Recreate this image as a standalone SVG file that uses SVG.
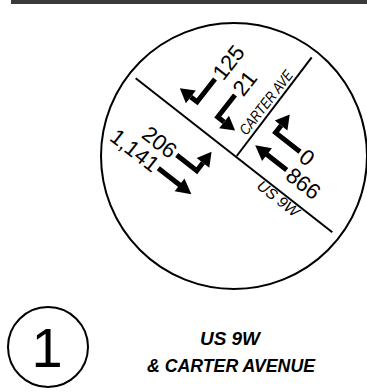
<svg xmlns="http://www.w3.org/2000/svg" width="367" height="392" viewBox="0 0 367 392">
<style>
.road{stroke:#000;stroke-width:2;fill:none}
.ring{stroke:#000;stroke-width:2;fill:none}
.stem{stroke:#000;stroke-width:5;fill:none;stroke-linejoin:miter;stroke-linecap:butt}
.head{fill:#000}
.num{font-family:"Liberation Sans",Arial,sans-serif;font-size:22px;fill:#000}
.lbl{font-family:"Liberation Sans",Arial,sans-serif;font-style:italic;font-size:15px;fill:#000}
.title{font-family:"Liberation Sans",Arial,sans-serif;font-weight:bold;font-style:italic;font-size:19px;fill:#000}
</style>
<rect id="topbar" x="11" y="0" width="356" height="4" fill="#3a3a3a"/>
<g id="intersection">
<circle class="ring" cx="234" cy="156" r="133"/>
</g>
<g id="connectors">
<line class="road" x1="135.7" y1="78.3" x2="332.3" y2="232.3"/>
<line class="road" x1="236.7" y1="156" x2="311.7" y2="57.3"/>
</g>
<g id="road-labels">
<text class="lbl" transform="translate(236.7,155) rotate(-52)" x="21" y="-4" textLength="77" lengthAdjust="spacingAndGlyphs">CARTER AVE</text>
<text class="lbl" transform="translate(236.7,155) rotate(38)" x="35" y="14" font-size="14" textLength="49" lengthAdjust="spacingAndGlyphs">US 9W</text>
</g>
<g id="nw-approach">
<g id="nw-left" transform="translate(176.7,155) rotate(38)">
<path class="stem" d="M0,0H25.5V-10"/>
<polygon class="head" points="17.5,-10 25.5,-24 33.5,-10"/>
<text class="num" x="-3" y="8" text-anchor="end">206</text>
</g>
<g id="nw-thru" transform="translate(158.3,168.3) rotate(38)">
<path class="stem" d="M0,0H28"/>
<polygon class="head" points="27,-8 42,0 27,8"/>
<text class="num" x="-2" y="8" text-anchor="end">1,141</text>
</g>
</g>
<g id="ne-approach">
<g id="ne-right" transform="translate(215,79) rotate(-52)">
<path class="stem" d="M0,0H-29V-8"/>
<polygon class="head" points="-37,-8 -29,-22 -21,-8"/>
<text class="num" x="3" y="8">125</text>
</g>
<g id="ne-left" transform="translate(235,95) rotate(-52)">
<path class="stem" d="M0,0H-28V8"/>
<polygon class="head" points="-36,8 -28,22 -20,8"/>
<text class="num" x="3" y="8">21</text>
</g>
</g>
<g id="se-approach">
<g id="se-right" transform="translate(300,151.7) rotate(38)">
<path class="stem" d="M0,0H-31V-9"/>
<polygon class="head" points="-39,-9 -31,-23 -23,-9"/>
<text class="num" x="3" y="8">0</text>
</g>
<g id="se-thru" transform="translate(286.7,170) rotate(38)">
<path class="stem" d="M0,0H-26"/>
<polygon class="head" points="-25,-8 -40,0 -25,8"/>
<text class="num" x="3" y="8">866</text>
</g>
</g>
<g id="legend">
<circle class="ring" cx="48" cy="347" r="40"/>
<text x="47" y="367" text-anchor="middle" font-family="Liberation Sans, Arial, sans-serif" font-size="56">1</text>
</g>
<g id="title">
<text class="title" x="230" y="345" text-anchor="middle" textLength="60" lengthAdjust="spacingAndGlyphs">US 9W</text>
<text class="title" x="231" y="371.5" text-anchor="middle" textLength="168" lengthAdjust="spacingAndGlyphs">&amp; CARTER AVENUE</text>
</g>
</svg>
